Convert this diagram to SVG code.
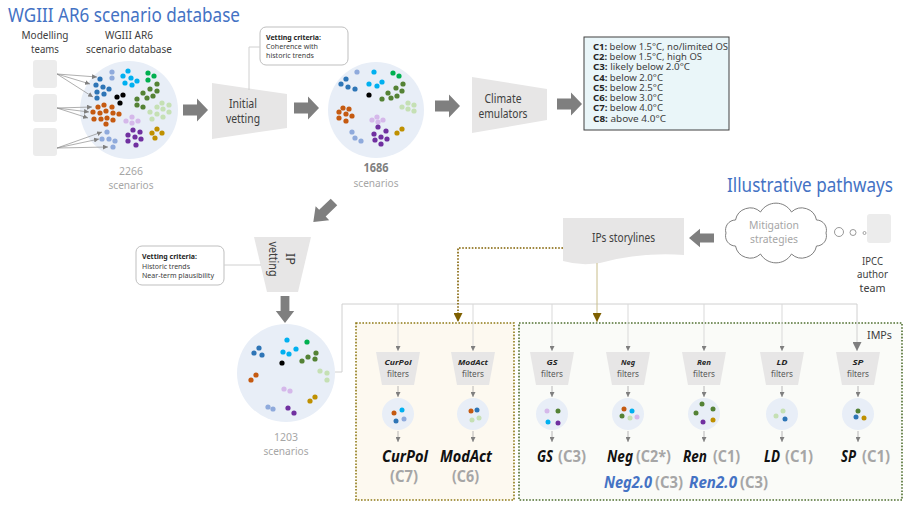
<svg xmlns="http://www.w3.org/2000/svg" width="923" height="514" viewBox="0 0 923 514">
<style>
.t{font-family:"Noto Sans","Open Sans",sans-serif;fill:#404040}
.title{font-size:20px;fill:#4472C4}
.lbl{font-size:11.5px}
.cnt{font-size:11.5px;fill:#a6a6a6}
.cnt2{font-size:11.5px;fill:#7f7f7f;font-weight:bold}
.crit{font-size:7px}
.cb{font-size:8.3px}
.b{font-weight:bold;fill:#262626}
.fl{font-size:7.5px;font-weight:bold;font-style:italic;fill:#262626}
.ff{font-size:8.5px;fill:#595959}
.nm{font-size:16px;font-weight:bold;font-style:italic;fill:#111}
.cc{font-size:16px;font-weight:bold;fill:#a6a6a6}
.nb{font-size:16px;font-weight:bold;font-style:italic;fill:#4472C4}
.fun{fill:#e7e6e6}
.big{fill:#e8eef7}
.blk{fill:#7f7f7f}
.team{fill:#ececec}
.db{fill:#2e75b6}.lb{fill:#8faadc}.cy{fill:#00b0f0}.gr{fill:#00b050}.ol{fill:#548235}.bk{fill:#000}
.or{fill:#c55a11}.li{fill:#d5b8ea}.lg{fill:#c5e0b4}.pu{fill:#7030a0}.go{fill:#bf9000}
.drop{stroke:#d9d9d9;stroke-width:1;fill:none;marker-end:url(#ah)}
.sm{stroke:#a6a6a6;stroke-width:0.8;fill:none;marker-end:url(#ah)}
.ta{stroke:#8c8c8c;stroke-width:0.7;fill:none;marker-end:url(#ah)}
.gl{stroke:#d0d0d0;stroke-width:1;fill:none}
</style>
<defs>
<marker id="ah" viewBox="0 0 6 6" refX="6" refY="3" markerWidth="5" markerHeight="5" markerUnits="userSpaceOnUse" orient="auto"><path d="M0,0 L6,3 L0,6 Z" fill="#7f7f7f"/></marker>
<marker id="ahB" viewBox="0 0 6 6" refX="6" refY="3" markerWidth="9" markerHeight="9" markerUnits="userSpaceOnUse" orient="auto"><path d="M0,0 L6,3 L0,6 Z" fill="#7f7f7f"/></marker>
<marker id="ahO" viewBox="0 0 6 6" refX="6" refY="3" markerWidth="9" markerHeight="9" markerUnits="userSpaceOnUse" orient="auto"><path d="M0,0 L6,3 L0,6 Z" fill="#7f6000"/></marker>
<path id="barrow" d="M0,-5.5 H14 V-11.5 L25,0 L14,11.5 V5.5 H0 Z"/>
</defs>

<!-- titles -->
<text class="t title" x="8" y="22" textLength="232" lengthAdjust="spacingAndGlyphs">WGIII AR6 scenario database</text>
<text class="t title" x="727" y="192" font-size="19" textLength="166" lengthAdjust="spacingAndGlyphs">Illustrative pathways</text>

<!-- modelling teams -->
<g id="teams">
<text class="t lbl" x="45" y="39" text-anchor="middle" textLength="47" lengthAdjust="spacingAndGlyphs">Modelling</text>
<text class="t lbl" x="45" y="53" text-anchor="middle" textLength="28" lengthAdjust="spacingAndGlyphs">teams</text>
<rect class="team" x="33" y="60" width="24" height="28" rx="3"/>
<rect class="team" x="33" y="94" width="24" height="28" rx="3"/>
<rect class="team" x="33" y="128" width="24" height="28" rx="3"/>
</g>

<!-- database circle -->
<g id="db2266">
<text class="t lbl" x="129" y="39" text-anchor="middle" textLength="48" lengthAdjust="spacingAndGlyphs">WGIII AR6</text>
<text class="t lbl" x="129" y="53" text-anchor="middle" textLength="86" lengthAdjust="spacingAndGlyphs">scenario database</text>
<circle class="big" cx="129" cy="110" r="49"/>
<g>
<circle class="db" cx="100" cy="79" r="2.6"/><circle class="db" cx="96" cy="85" r="2.6"/><circle class="db" cx="103" cy="87" r="2.6"/><circle class="db" cx="109" cy="89" r="2.6"/><circle class="db" cx="97" cy="92" r="2.6"/><circle class="db" cx="104" cy="94" r="2.6"/><circle class="db" cx="97" cy="98" r="2.6"/>
<circle class="lb" cx="112" cy="72" r="2.6"/><circle class="lb" cx="112" cy="78" r="2.6"/>
<circle class="cy" cx="123" cy="76" r="2.6"/><circle class="cy" cx="128" cy="71" r="2.6"/><circle class="cy" cx="131" cy="78" r="2.6"/><circle class="cy" cx="125" cy="83" r="2.6"/><circle class="cy" cx="132" cy="85" r="2.6"/><circle class="cy" cx="137" cy="81" r="2.6"/>
<circle class="gr" cx="148" cy="73" r="2.6"/><circle class="gr" cx="154" cy="76" r="2.6"/><circle class="gr" cx="148" cy="80" r="2.6"/>
<circle class="ol" cx="157" cy="84" r="2.6"/><circle class="ol" cx="150" cy="89" r="2.6"/><circle class="ol" cx="157" cy="91" r="2.6"/><circle class="ol" cx="143" cy="93" r="2.6"/><circle class="ol" cx="147" cy="98" r="2.6"/><circle class="ol" cx="137" cy="99" r="2.6"/><circle class="ol" cx="137" cy="105" r="2.6"/><circle class="ol" cx="143" cy="107" r="2.6"/><circle class="ol" cx="153" cy="96" r="2.6"/>
<circle class="bk" cx="117" cy="97" r="2.6"/><circle class="bk" cx="123" cy="95" r="2.6"/><circle class="bk" cx="120" cy="103" r="2.6"/>
<circle class="or" cx="98" cy="107" r="2.6"/><circle class="or" cx="104" cy="105" r="2.6"/><circle class="or" cx="112" cy="107" r="2.6"/><circle class="or" cx="93" cy="112" r="2.6"/><circle class="or" cx="100" cy="113" r="2.6"/><circle class="or" cx="106" cy="111" r="2.6"/><circle class="or" cx="113" cy="113" r="2.6"/><circle class="or" cx="119" cy="114" r="2.6"/><circle class="or" cx="94" cy="119" r="2.6"/><circle class="or" cx="101" cy="119" r="2.6"/><circle class="or" cx="107" cy="118" r="2.6"/><circle class="or" cx="113" cy="120" r="2.6"/><circle class="or" cx="106" cy="124" r="2.6"/>
<circle class="li" cx="132" cy="117" r="2.6"/><circle class="li" cx="126" cy="121" r="2.6"/><circle class="li" cx="132" cy="123" r="2.6"/><circle class="li" cx="138" cy="121" r="2.6"/>
<circle class="lg" cx="162" cy="103" r="2.6"/><circle class="lg" cx="169" cy="105" r="2.6"/><circle class="lg" cx="157" cy="107" r="2.6"/><circle class="lg" cx="163" cy="109" r="2.6"/><circle class="lg" cx="169" cy="112" r="2.6"/><circle class="lg" cx="150" cy="112" r="2.6"/><circle class="lg" cx="157" cy="114" r="2.6"/><circle class="lg" cx="163" cy="117" r="2.6"/><circle class="lg" cx="152" cy="119" r="2.6"/>
<circle class="pu" cx="133" cy="130" r="2.6"/><circle class="pu" cx="140" cy="132" r="2.6"/><circle class="pu" cx="128" cy="135" r="2.6"/><circle class="pu" cx="135" cy="137" r="2.6"/><circle class="pu" cx="141" cy="139" r="2.6"/><circle class="pu" cx="128" cy="141" r="2.6"/><circle class="pu" cx="136" cy="145" r="2.6"/>
<circle class="go" cx="157" cy="129" r="2.6"/><circle class="go" cx="152" cy="133" r="2.6"/><circle class="go" cx="162" cy="133" r="2.6"/><circle class="go" cx="155" cy="138" r="2.6"/>
<circle class="lb" cx="107" cy="132" r="2.6"/><circle class="lb" cx="102" cy="139" r="2.6"/><circle class="lb" cx="109" cy="139" r="2.6"/><circle class="lb" cx="115" cy="141" r="2.6"/><circle class="lb" cx="113" cy="147" r="2.6"/>
</g>
<text class="t cnt" x="131" y="175" text-anchor="middle" textLength="24" lengthAdjust="spacingAndGlyphs">2266</text>
<text class="t cnt" x="131" y="188.5" text-anchor="middle" textLength="45" lengthAdjust="spacingAndGlyphs">scenarios</text>
</g>

<!-- initial vetting -->
<g id="initialVetting">
<polygon class="fun" points="212,83 287,94 287,128 212,139"/>
<text class="t" font-size="11.8" x="243" y="108" text-anchor="middle" textLength="28" lengthAdjust="spacingAndGlyphs">Initial</text>
<text class="t" font-size="11.8" x="243" y="122.5" text-anchor="middle" textLength="34" lengthAdjust="spacingAndGlyphs">vetting</text>
</g>
<g id="criteria1">
<rect x="260" y="27" width="88" height="38" rx="6" fill="#fff" stroke="#bfbfbf" stroke-width="1"/>
<text class="t crit b" x="266" y="39.5" textLength="55" lengthAdjust="spacingAndGlyphs">Vetting criteria:</text>
<text class="t crit" x="266" y="49" textLength="52" lengthAdjust="spacingAndGlyphs">Coherence with</text>
<text class="t crit" x="266" y="58" textLength="48" lengthAdjust="spacingAndGlyphs">historic trends</text>
</g>

<!-- 1686 circle -->
<g id="db1686">
<circle class="big" cx="376" cy="110" r="48"/>
<g>
<circle class="lb" cx="357" cy="72" r="2.6"/>
<circle class="cy" cx="374" cy="72" r="2.6"/><circle class="cy" cx="369" cy="84" r="2.6"/><circle class="cy" cx="377" cy="86" r="2.6"/><circle class="cy" cx="382" cy="82" r="2.6"/>
<circle class="db" cx="346" cy="79" r="2.6"/><circle class="db" cx="341" cy="84" r="2.6"/><circle class="db" cx="348" cy="87" r="2.6"/><circle class="db" cx="355" cy="89" r="2.6"/>
<circle class="gr" cx="393" cy="73" r="2.6"/><circle class="gr" cx="399" cy="76" r="2.6"/>
<circle class="ol" cx="403" cy="84" r="2.6"/><circle class="ol" cx="396" cy="88" r="2.6"/><circle class="ol" cx="402" cy="91" r="2.6"/><circle class="ol" cx="388" cy="93" r="2.6"/><circle class="ol" cx="397" cy="96" r="2.6"/><circle class="ol" cx="391" cy="98" r="2.6"/><circle class="ol" cx="382" cy="99" r="2.6"/>
<circle class="bk" cx="369" cy="95" r="2.6"/>
<circle class="lg" cx="408" cy="103" r="2.6"/><circle class="lg" cx="414" cy="105" r="2.6"/><circle class="lg" cx="408" cy="109" r="2.6"/><circle class="lg" cx="414" cy="111" r="2.6"/><circle class="lg" cx="402" cy="107" r="2.6"/>
<circle class="or" cx="343" cy="108" r="2.6"/><circle class="or" cx="349" cy="109" r="2.6"/><circle class="or" cx="339" cy="112" r="2.6"/><circle class="or" cx="346" cy="114" r="2.6"/><circle class="or" cx="352" cy="116" r="2.6"/><circle class="or" cx="339" cy="118" r="2.6"/><circle class="or" cx="346" cy="121" r="2.6"/>
<circle class="li" cx="377" cy="117" r="2.6"/><circle class="li" cx="372" cy="120" r="2.6"/><circle class="li" cx="378" cy="122" r="2.6"/><circle class="li" cx="383" cy="120" r="2.6"/>
<circle class="lb" cx="352" cy="132" r="2.6"/><circle class="lb" cx="355" cy="138" r="2.6"/><circle class="lb" cx="361" cy="141" r="2.6"/>
<circle class="pu" cx="378" cy="127" r="2.6"/><circle class="pu" cx="386" cy="131" r="2.6"/><circle class="pu" cx="374" cy="134" r="2.6"/><circle class="pu" cx="381" cy="137" r="2.6"/><circle class="pu" cx="387" cy="139" r="2.6"/><circle class="pu" cx="375" cy="140" r="2.6"/><circle class="pu" cx="381" cy="144" r="2.6"/>
<circle class="go" cx="397" cy="133" r="2.6"/><circle class="go" cx="402" cy="129" r="2.6"/>
</g>
<text class="t cnt2" x="376" y="172" text-anchor="middle" textLength="25" lengthAdjust="spacingAndGlyphs">1686</text>
<text class="t cnt" x="376" y="187" text-anchor="middle" textLength="45" lengthAdjust="spacingAndGlyphs">scenarios</text>
</g>

<!-- climate emulators -->
<g id="climateEmulators">
<polygon class="fun" points="472,77 547,89 547,120 472,133"/>
<text class="t" font-size="11.8" x="503" y="103" text-anchor="middle" textLength="37" lengthAdjust="spacingAndGlyphs">Climate</text>
<text class="t" font-size="11.8" x="503" y="117.5" text-anchor="middle" textLength="49" lengthAdjust="spacingAndGlyphs">emulators</text>
</g>

<!-- climate categories -->
<g id="categories">
<rect x="584" y="37" width="145" height="93" fill="#eaf6f9" stroke="#404040" stroke-width="1"/>
<text class="t cb" x="593" y="50" textLength="135" lengthAdjust="spacingAndGlyphs"><tspan class="b">C1:</tspan> below 1.5°C, no/limited OS</text>
<text class="t cb" x="593" y="60.2" textLength="109" lengthAdjust="spacingAndGlyphs"><tspan class="b">C2:</tspan> below 1.5°C, high OS</text>
<text class="t cb" x="593" y="70.4" textLength="97" lengthAdjust="spacingAndGlyphs"><tspan class="b">C3:</tspan> likely below 2.0°C</text>
<text class="t cb" x="593" y="80.7" textLength="70" lengthAdjust="spacingAndGlyphs"><tspan class="b">C4:</tspan> below 2.0°C</text>
<text class="t cb" x="593" y="90.9" textLength="70" lengthAdjust="spacingAndGlyphs"><tspan class="b">C5:</tspan> below 2.5°C</text>
<text class="t cb" x="593" y="101.1" textLength="70" lengthAdjust="spacingAndGlyphs"><tspan class="b">C6:</tspan> below 3.0°C</text>
<text class="t cb" x="593" y="111.3" textLength="70" lengthAdjust="spacingAndGlyphs"><tspan class="b">C7:</tspan> below 4.0°C</text>
<text class="t cb" x="593" y="121.6" textLength="73" lengthAdjust="spacingAndGlyphs"><tspan class="b">C8:</tspan> above 4.0°C</text>
</g>

<!-- IP vetting -->
<g id="ipVetting">
<polygon class="fun" points="254,237 311,237 298,292 267,292"/>
<text class="t" font-size="12.5" transform="translate(282,259) rotate(90)" x="0" y="-3.5" text-anchor="middle" textLength="12" lengthAdjust="spacingAndGlyphs">IP</text>
<text class="t" font-size="12.5" transform="translate(282,259) rotate(90)" x="0" y="13" text-anchor="middle" textLength="35" lengthAdjust="spacingAndGlyphs">vetting</text>
</g>
<g id="criteria2">
<rect x="136" y="246" width="88" height="39" rx="6" fill="#fff" stroke="#bfbfbf" stroke-width="1"/>
<text class="t crit b" x="142" y="259" textLength="55" lengthAdjust="spacingAndGlyphs">Vetting criteria:</text>
<text class="t crit" x="142" y="268.5" textLength="48" lengthAdjust="spacingAndGlyphs">Historic trends</text>
<text class="t crit" x="142" y="278" textLength="72" lengthAdjust="spacingAndGlyphs">Near-term plausibility</text>
</g>

<!-- 1203 circle -->
<g id="db1203">
<circle class="big" cx="286" cy="373" r="49"/>
<g>
<circle class="db" cx="254" cy="353" r="2.6"/><circle class="db" cx="259" cy="348" r="2.6"/><circle class="db" cx="262" cy="355" r="2.6"/>
<circle class="cy" cx="287" cy="340" r="2.6"/><circle class="cy" cx="283" cy="352" r="2.6"/><circle class="cy" cx="289" cy="354" r="2.6"/><circle class="cy" cx="296" cy="349" r="2.6"/>
<circle class="gr" cx="307" cy="342" r="2.6"/>
<circle class="ol" cx="302" cy="361" r="2.6"/><circle class="ol" cx="308" cy="357" r="2.6"/><circle class="ol" cx="315" cy="359" r="2.6"/><circle class="ol" cx="316" cy="353" r="2.6"/>
<circle class="bk" cx="282" cy="363" r="2.6"/>
<circle class="lg" cx="320" cy="371" r="2.6"/><circle class="lg" cx="327" cy="373" r="2.6"/><circle class="lg" cx="327" cy="380" r="2.6"/>
<circle class="or" cx="256" cy="375" r="2.6"/><circle class="or" cx="251" cy="380" r="2.6"/>
<circle class="li" cx="284" cy="389" r="2.6"/><circle class="li" cx="290" cy="391" r="2.6"/>
<circle class="go" cx="310" cy="401" r="2.6"/><circle class="go" cx="315" cy="397" r="2.6"/>
<circle class="lb" cx="268" cy="407" r="2.6"/><circle class="lb" cx="273" cy="409" r="2.6"/>
<circle class="pu" cx="288" cy="408" r="2.6"/><circle class="pu" cx="294" cy="413" r="2.6"/>
</g>
<text class="t cnt" x="286" y="440.5" text-anchor="middle" textLength="24" lengthAdjust="spacingAndGlyphs">1203</text>
<text class="t cnt" x="286" y="454.5" text-anchor="middle" textLength="45" lengthAdjust="spacingAndGlyphs">scenarios</text>
</g>

<!-- IP storylines / cloud / IPCC -->
<g id="storylines">
<path class="fun" d="M563,218 H684 V255 Q640,252 600,263 Q580,266 563,261 Z"/>
<text class="t" font-size="12" x="623.5" y="242" text-anchor="middle" textLength="63" lengthAdjust="spacingAndGlyphs">IPs storylines</text>
</g>
<g id="mitigation">
<path d="M726,233 A10,10 0 0 1 735.5,220 A15,15 0 0 1 760.5,212 A18,18 0 0 1 791.5,212 A15,15 0 0 1 816.5,220 A10,10 0 0 1 826,233 A10,10 0 0 1 816.5,246 A15,15 0 0 1 791.5,254 A18,18 0 0 1 760.5,254 A15,15 0 0 1 735.5,246 A10,10 0 0 1 726,233 Z" fill="#fff" stroke="#7f7f7f" stroke-width="1"/>
<text class="t" x="774" y="228.5" text-anchor="middle" style="fill:#a6a6a6;font-size:10.8px" textLength="50" lengthAdjust="spacingAndGlyphs">Mitigation</text>
<text class="t" x="774" y="242.5" text-anchor="middle" style="fill:#a6a6a6;font-size:10.8px" textLength="48" lengthAdjust="spacingAndGlyphs">strategies</text>
<circle cx="839" cy="232" r="4.5" fill="#fff" stroke="#7f7f7f" stroke-width="0.8"/>
<circle cx="853" cy="232.5" r="3" fill="#fff" stroke="#7f7f7f" stroke-width="0.8"/>
<circle cx="864.5" cy="233" r="1.5" fill="#fff" stroke="#7f7f7f" stroke-width="0.7"/>
</g>
<g id="ipcc">
<rect class="team" x="867" y="214" width="24" height="29" rx="3"/>
<text class="t" x="872.5" y="264.5" text-anchor="middle" style="font-size:10.3px" textLength="21" lengthAdjust="spacingAndGlyphs">IPCC</text>
<text class="t" x="872.5" y="278" text-anchor="middle" style="font-size:10.3px" textLength="31" lengthAdjust="spacingAndGlyphs">author</text>
<text class="t" x="872.5" y="291.5" text-anchor="middle" style="font-size:10.3px" textLength="26" lengthAdjust="spacingAndGlyphs">team</text>
</g>

<!-- pathway boxes -->
<g id="boxes">
<rect x="356" y="323" width="158" height="177" fill="#fdf9f0" stroke="#8f7a16" stroke-width="1.6" stroke-dasharray="1.6 1.6"/>
<rect x="519" y="323" width="383" height="177" fill="#fafbf8" stroke="#4f6f2f" stroke-width="1.6" stroke-dasharray="1.6 1.6"/>
<text class="t lbl" x="867" y="339" textLength="25" lengthAdjust="spacingAndGlyphs">IMPs</text>
</g>

<!-- connectors -->
<g id="connectors">
<use href="#barrow" class="blk" transform="translate(183,110)"/>
<use href="#barrow" class="blk" transform="translate(294,108)"/>
<use href="#barrow" class="blk" transform="translate(435,106)"/>
<use href="#barrow" class="blk" transform="translate(557,104)"/>
<use href="#barrow" class="blk" transform="translate(714,238) rotate(180) scale(1,0.8)"/>
<use href="#barrow" class="blk" transform="translate(285,296) rotate(90) scale(1.08,0.8)"/>
<use href="#barrow" class="blk" transform="translate(334,202) rotate(136) scale(1.15,0.85)"/>
<path class="ta" d="M57,74 L97,77"/><path class="ta" d="M57,74 L90,84"/><path class="ta" d="M57,74 L93,97"/>
<path class="ta" d="M57,108 L92,107"/><path class="ta" d="M57,108 L89,112"/><path class="ta" d="M57,108 L88,118"/>
<path class="ta" d="M57,148 L102,132"/><path class="ta" d="M57,148 L99,139"/><path class="ta" d="M57,148 L108,147"/>
<path class="gl" d="M260,47 H249 V90"/>
<path class="gl" d="M224,265 H261"/>
<path d="M335,372 H342 V304 H857 V351" stroke="#d0d0d0" stroke-width="1" fill="none" marker-end="url(#ahB)"/>
<path d="M563,248 H458 V322" stroke="#806000" stroke-width="1.6" stroke-dasharray="1.6 1.6" fill="none" marker-end="url(#ahO)"/>
<path d="M597,263 V322" stroke="#c8bd8a" stroke-width="1" fill="none" marker-end="url(#ahO)"/>
<path class="drop" d="M398,304 V351"/><path class="drop" d="M473,304 V351"/><path class="drop" d="M552,304 V351"/><path class="drop" d="M628,304 V351"/><path class="drop" d="M704,304 V351"/><path class="drop" d="M782,304 V351"/>
<path class="sm" d="M398,386 V397"/><path class="sm" d="M473,386 V397"/><path class="sm" d="M552,386 V397"/><path class="sm" d="M628,386 V397"/><path class="sm" d="M704,386 V397"/><path class="sm" d="M782,386 V397"/><path class="sm" d="M858,386 V397"/>
<path class="sm" d="M398,431 V442"/><path class="sm" d="M473,431 V442"/><path class="sm" d="M552,431 V442"/><path class="sm" d="M628,431 V442"/><path class="sm" d="M704,431 V442"/><path class="sm" d="M782,431 V442"/><path class="sm" d="M858,431 V442"/>
</g>

<!-- filters -->
<g id="curpol">
<polygon class="fun" points="376,352 420,352 414,385 382,385"/>
<text class="t fl" x="398" y="365" text-anchor="middle" textLength="27" lengthAdjust="spacingAndGlyphs">CurPol</text>
<text class="t ff" x="398" y="377" text-anchor="middle" textLength="22" lengthAdjust="spacingAndGlyphs">filters</text>
<circle class="big" cx="398" cy="414" r="16"/>
<circle class="or" cx="394" cy="413" r="2.5"/><circle class="cy" cx="402" cy="410" r="2.5"/><circle class="db" cx="396" cy="421" r="2.5"/><circle class="lb" cx="404" cy="419" r="2.5"/>
<text class="t nm" x="405" y="462" text-anchor="middle" textLength="46" lengthAdjust="spacingAndGlyphs">CurPol</text>
<text class="t cc" x="404" y="482" text-anchor="middle" textLength="28" lengthAdjust="spacingAndGlyphs">(C7)</text>
</g>
<g id="modact">
<polygon class="fun" points="451,352 495,352 489,385 457,385"/>
<text class="t fl" x="473" y="365" text-anchor="middle" textLength="30" lengthAdjust="spacingAndGlyphs">ModAct</text>
<text class="t ff" x="473" y="377" text-anchor="middle" textLength="22" lengthAdjust="spacingAndGlyphs">filters</text>
<circle class="big" cx="473" cy="414" r="16"/>
<circle class="or" cx="471" cy="411" r="2.5"/><circle class="db" cx="477" cy="410" r="2.5"/><circle class="lg" cx="472" cy="420" r="2.5"/><circle class="lg" cx="479" cy="418" r="2.5"/>
<text class="t nm" x="466" y="462" text-anchor="middle" textLength="52" lengthAdjust="spacingAndGlyphs">ModAct</text>
<text class="t cc" x="465.5" y="482" text-anchor="middle" textLength="27" lengthAdjust="spacingAndGlyphs">(C6)</text>
</g>
<g id="gs">
<polygon class="fun" points="530,352 574,352 568,385 536,385"/>
<text class="t fl" x="552" y="365" text-anchor="middle" textLength="11" lengthAdjust="spacingAndGlyphs">GS</text>
<text class="t ff" x="552" y="377" text-anchor="middle" textLength="22" lengthAdjust="spacingAndGlyphs">filters</text>
<circle class="big" cx="552" cy="414" r="16"/>
<circle class="li" cx="547" cy="411" r="2.5"/><circle class="ol" cx="558" cy="411" r="2.5"/><circle class="cy" cx="548" cy="422" r="2.5"/><circle class="pu" cx="558" cy="423" r="2.5"/>
<text class="t nm" x="537" y="462" textLength="16" lengthAdjust="spacingAndGlyphs">GS</text>
<text class="t cc" x="558" y="462" textLength="28" lengthAdjust="spacingAndGlyphs">(C3)</text>
</g>
<g id="neg">
<polygon class="fun" points="606,352 650,352 644,385 612,385"/>
<text class="t fl" x="628" y="365" text-anchor="middle" textLength="14" lengthAdjust="spacingAndGlyphs">Neg</text>
<text class="t ff" x="628" y="377" text-anchor="middle" textLength="22" lengthAdjust="spacingAndGlyphs">filters</text>
<circle class="big" cx="628" cy="414" r="16"/>
<circle class="or" cx="624" cy="409" r="2.5"/><circle class="cy" cx="632" cy="411" r="2.5"/><circle class="ol" cx="622" cy="416" r="2.5"/><circle class="lg" cx="630" cy="418" r="2.5"/><circle class="li" cx="637" cy="417" r="2.5"/>
<text class="t nm" x="607" y="462" textLength="26" lengthAdjust="spacingAndGlyphs">Neg</text>
<text class="t cc" x="636" y="462" textLength="35" lengthAdjust="spacingAndGlyphs">(C2*)</text>
<text class="t nb" x="604" y="488" textLength="48" lengthAdjust="spacingAndGlyphs">Neg2.0</text>
<text class="t cc" x="655" y="488" textLength="28" lengthAdjust="spacingAndGlyphs">(C3)</text>
</g>
<g id="ren">
<polygon class="fun" points="682,352 726,352 720,385 688,385"/>
<text class="t fl" x="704" y="365" text-anchor="middle" textLength="14" lengthAdjust="spacingAndGlyphs">Ren</text>
<text class="t ff" x="704" y="377" text-anchor="middle" textLength="22" lengthAdjust="spacingAndGlyphs">filters</text>
<circle class="big" cx="704" cy="414" r="16"/>
<circle class="ol" cx="702" cy="404" r="2.5"/><circle class="ol" cx="713" cy="409" r="2.5"/><circle class="ol" cx="696" cy="413" r="2.5"/><circle class="go" cx="713" cy="420" r="2.5"/><circle class="pu" cx="703" cy="422" r="2.5"/>
<text class="t nm" x="683" y="462" textLength="24" lengthAdjust="spacingAndGlyphs">Ren</text>
<text class="t cc" x="713" y="462" textLength="27" lengthAdjust="spacingAndGlyphs">(C1)</text>
<text class="t nb" x="689" y="488" textLength="48" lengthAdjust="spacingAndGlyphs">Ren2.0</text>
<text class="t cc" x="740" y="488" textLength="28" lengthAdjust="spacingAndGlyphs">(C3)</text>
</g>
<g id="ld">
<polygon class="fun" points="760,352 804,352 798,385 766,385"/>
<text class="t fl" x="782" y="365" text-anchor="middle" textLength="11" lengthAdjust="spacingAndGlyphs">LD</text>
<text class="t ff" x="782" y="377" text-anchor="middle" textLength="22" lengthAdjust="spacingAndGlyphs">filters</text>
<circle class="big" cx="782" cy="414" r="16"/>
<circle class="lg" cx="783" cy="411" r="2.5"/><circle class="lg" cx="776" cy="416" r="2.5"/><circle class="db" cx="785" cy="419" r="2.5"/>
<text class="t nm" x="764" y="462" textLength="16" lengthAdjust="spacingAndGlyphs">LD</text>
<text class="t cc" x="785" y="462" textLength="28" lengthAdjust="spacingAndGlyphs">(C1)</text>
</g>
<g id="sp">
<polygon class="fun" points="836,352 880,352 874,385 842,385"/>
<text class="t fl" x="858" y="365" text-anchor="middle" textLength="11" lengthAdjust="spacingAndGlyphs">SP</text>
<text class="t ff" x="858" y="377" text-anchor="middle" textLength="22" lengthAdjust="spacingAndGlyphs">filters</text>
<circle class="big" cx="858" cy="414" r="16"/>
<circle class="ol" cx="858" cy="411" r="2.5"/><circle class="db" cx="856" cy="417" r="2.5"/><circle class="go" cx="864" cy="418" r="2.5"/>
<text class="t nm" x="841" y="462" textLength="15" lengthAdjust="spacingAndGlyphs">SP</text>
<text class="t cc" x="862" y="462" textLength="28" lengthAdjust="spacingAndGlyphs">(C1)</text>
</g>
</svg>
